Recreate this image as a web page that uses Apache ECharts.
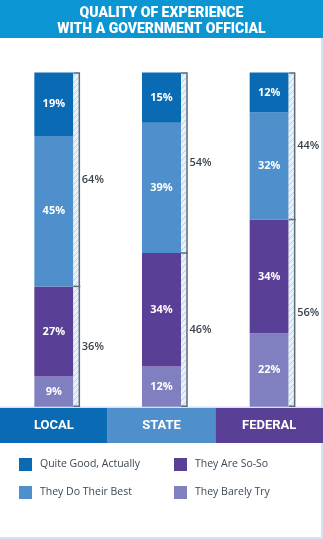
<!DOCTYPE html>
<html>
<head>
<meta charset="utf-8">
<title>Quality of Experience with a Government Official</title>
<script src="https://cdn.jsdelivr.net/npm/echarts@6/dist/echarts.min.js"></script>
<style>
  html, body { margin: 0; padding: 0; background: #ffffff; }
  #chart { width: 323px; height: 539px; }
</style>
</head>
<body>
<div id="chart"></div>
<script>
// Level of government for each column
var categories = ['LOCAL', 'STATE', 'FEDERAL'];

// Share of respondents per answer (percent), one value per level
var quiteGood  = [19, 15, 12];
var doBest     = [45, 39, 32];
var soSo       = [27, 34, 34];
var barelyTry  = [9, 12, 22];

var seriesNames = ['Quite Good, Actually', 'They Do Their Best', 'They Are So-So', 'They Barely Try'];

// Palette
var COLORS = {
  header: '#0b95d3',
  quiteGood: '#0a6ab4',
  doBest: '#4f8fcb',
  soSo: '#5a3f96',
  barelyTry: '#8080c0',
  bracket: '#5d6b79',
  groupText: '#3a434d',
  legendText: '#3b4856',
  frame: '#d2e3f3'
};
var bandColors = [COLORS.quiteGood, COLORS.doBest, COLORS.soSo];

var BAR_W = 39;

// Diagonal hatch used for the bracket strip next to each bar
function makeHatch() {
  var c = document.createElement('canvas');
  c.width = 6; c.height = 6;
  var g = c.getContext('2d');
  g.fillStyle = '#e6f1fa';
  g.fillRect(0, 0, 6, 6);
  g.strokeStyle = '#b2d1ec';
  g.lineWidth = 1;
  g.beginPath();
  g.moveTo(0, 6); g.lineTo(6, 0);
  g.moveTo(-3, 3); g.lineTo(3, -3);
  g.moveTo(3, 9); g.lineTo(9, 3);
  g.stroke();
  return c;
}
var hatch = { image: makeHatch(), repeat: 'repeat' };

// Bracket data: [category index, negative-group total, overall total]
var bracketData = categories.map(function (c, i) {
  var low = soSo[i] + barelyTry[i];
  var high = quiteGood[i] + doBest[i];
  return [i, low, low + high];
});

var segLabel = {
  show: true,
  position: 'inside',
  color: '#ffffff',
  fontFamily: 'Open Sans',
  fontWeight: 'bold',
  fontSize: 11,
  formatter: '{c}%'
};

function barSeries(name, data, color) {
  return {
    name: name,
    type: 'bar',
    stack: 'total',
    xAxisIndex: 0,
    yAxisIndex: 0,
    barWidth: BAR_W,
    data: data,
    itemStyle: { color: color },
    label: segLabel,
    emphasis: { disabled: true }
  };
}

var legendBase = {
  orient: 'vertical',
  top: 458,
  padding: 0,
  itemWidth: 13,
  itemHeight: 13,
  itemGap: 15,
  icon: 'rect',
  selectedMode: false,
  textStyle: { color: COLORS.legendText, fontFamily: 'Open Sans', fontSize: 10.5, padding: [0, 0, 0, 3] }
};

var chart = echarts.init(document.getElementById('chart'), null, { renderer: 'canvas' });

var option = {
  animation: false,
  graphic: [
    { type: 'rect', left: 0, top: 0, shape: { width: 323, height: 38 }, style: { fill: COLORS.header }, z: 0 },
    { type: 'rect', left: 321, top: 38, shape: { width: 2, height: 501 }, style: { fill: COLORS.frame }, z: 0 },
    { type: 'rect', left: 0, top: 537, shape: { width: 323, height: 2 }, style: { fill: COLORS.frame }, z: 0 },
    { type: 'rect', left: 0, top: 406.5, shape: { width: 323, height: 1.5 }, style: { fill: COLORS.frame }, z: 0 }
  ],
  title: {
    text: 'QUALITY OF EXPERIENCE\nWITH A GOVERNMENT OFFICIAL',
    left: 'center',
    top: 5,
    padding: 0,
    textStyle: {
      color: '#ffffff',
      fontFamily: 'Roboto',
      fontWeight: 900,
      fontSize: 14,
      lineHeight: 16
    }
  },
  legend: [
    Object.assign({ data: [seriesNames[0], seriesNames[1]], left: 19 }, legendBase),
    Object.assign({ data: [seriesNames[2], seriesNames[3]], left: 174 }, legendBase)
  ],
  grid: [
    { left: 0, right: 0, top: 72.5, bottom: 132.3 },
    { left: 0, right: 0, top: 408, height: 35 }
  ],
  xAxis: [
    {
      gridIndex: 0, type: 'category', data: categories,
      axisLine: { show: false }, axisTick: { show: false }, axisLabel: { show: false }
    },
    {
      gridIndex: 1, type: 'category', data: categories,
      axisLine: { show: false }, axisTick: { show: false }, axisLabel: { show: false }
    }
  ],
  yAxis: [
    { gridIndex: 0, type: 'value', min: 0, max: 100, show: false },
    { gridIndex: 1, type: 'value', min: 0, max: 1, show: false }
  ],
  series: [
    barSeries(seriesNames[3], barelyTry, COLORS.barelyTry),
    barSeries(seriesNames[2], soSo, COLORS.soSo),
    barSeries(seriesNames[1], doBest, COLORS.doBest),
    barSeries(seriesNames[0], quiteGood, COLORS.quiteGood),
    {
      // Hatched bracket strip with the grouped positive / negative shares
      type: 'custom',
      xAxisIndex: 0,
      yAxisIndex: 0,
      z: 5,
      silent: true,
      data: bracketData,
      renderItem: function (params, api) {
        var idx = api.value(0), low = api.value(1), total = api.value(2);
        var base = api.coord([idx, 0]);
        var mid = api.coord([idx, low]);
        var top = api.coord([idx, total]);
        var x0 = base[0] + BAR_W / 2;
        var x1 = x0 + 6;
        var lineStyle = { stroke: COLORS.bracket, lineWidth: 1.5, fill: null };
        var textStyle = {
          fill: COLORS.groupText,
          fontFamily: 'Open Sans',
          fontWeight: 600,
          fontSize: 11,
          align: 'left',
          verticalAlign: 'middle'
        };
        return {
          type: 'group',
          children: [
            { type: 'rect', shape: { x: x0, y: top[1], width: x1 - x0, height: base[1] - top[1] }, style: { fill: hatch } },
            { type: 'polyline', shape: { points: [[x0, top[1] + 0.5], [x1, top[1] + 0.5], [x1, base[1] - 0.5], [x0, base[1] - 0.5]] }, style: lineStyle },
            { type: 'line', shape: { x1: x0, y1: mid[1], x2: x1 + 1, y2: mid[1] }, style: lineStyle },
            { type: 'text', x: x1 + 2.5, y: (top[1] + mid[1]) / 2, style: Object.assign({ text: (total - low) + '%' }, textStyle) },
            { type: 'text', x: x1 + 2.5, y: (mid[1] + base[1]) / 2, style: Object.assign({ text: low + '%' }, textStyle) }
          ]
        };
      }
    },
    {
      // Colored category band underneath the columns
      type: 'bar',
      xAxisIndex: 1,
      yAxisIndex: 1,
      barWidth: '100%',
      silent: true,
      data: categories.map(function (c, i) {
        return { value: 1, itemStyle: { color: bandColors[i] } };
      }),
      label: {
        show: true,
        position: 'inside',
        color: '#ffffff',
        fontFamily: 'Roboto',
        fontWeight: 'bold',
        fontSize: 13,
        formatter: function (p) { return p.name; }
      }
    }
  ]
};

chart.setOption(option);
</script>
</body>
</html>
